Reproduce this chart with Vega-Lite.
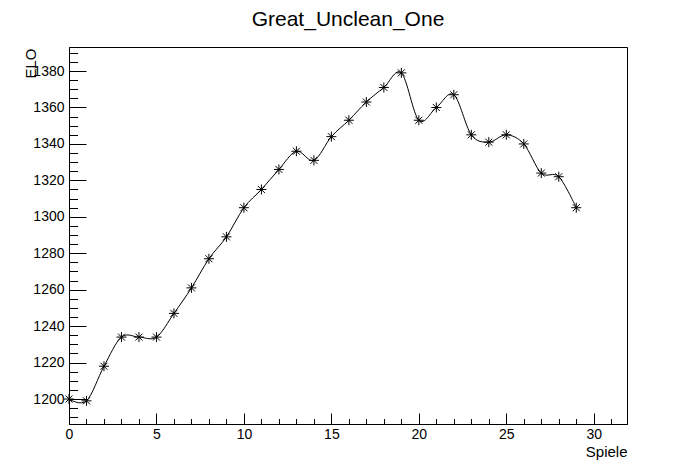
{
  "$schema": "https://vega.github.io/schema/vega-lite/v6.json",
  "width": 558,
  "height": 377,
  "autosize": {"type": "none"},
  "padding": {"left": 69, "top": 47, "right": 69, "bottom": 48},
  "background": "white",
  "title": {"text": "Great_Unclean_One", "font": "Liberation Sans", "fontSize": 21, "fontWeight": "normal", "color": "black", "baseline": "alphabetic", "offset": 19, "dy": 19, "anchor": "middle"},
  "config": {
    "view": {"stroke": "black", "strokeWidth": 1},
    "axis": {"grid": false, "domainColor": "black", "tickColor": "black", "labelColor": "black", "titleColor": "black", "labelFont": "Liberation Sans", "titleFont": "Liberation Sans", "labelFontSize": 14, "titleFontSize": 15, "titleFontWeight": "normal", "labelFlush": false}
  },
  "data": {"values": [
    {"game": 0, "elo": 1200}, {"game": 1, "elo": 1199}, {"game": 2, "elo": 1218}, {"game": 3, "elo": 1234},
    {"game": 4, "elo": 1234}, {"game": 5, "elo": 1234}, {"game": 6, "elo": 1247}, {"game": 7, "elo": 1261},
    {"game": 8, "elo": 1277}, {"game": 9, "elo": 1289}, {"game": 10, "elo": 1305}, {"game": 11, "elo": 1315},
    {"game": 12, "elo": 1326}, {"game": 13, "elo": 1336}, {"game": 14, "elo": 1331}, {"game": 15, "elo": 1344},
    {"game": 16, "elo": 1353}, {"game": 17, "elo": 1363}, {"game": 18, "elo": 1371}, {"game": 19, "elo": 1379},
    {"game": 20, "elo": 1353}, {"game": 21, "elo": 1360}, {"game": 22, "elo": 1367}, {"game": 23, "elo": 1345},
    {"game": 24, "elo": 1341}, {"game": 25, "elo": 1345}, {"game": 26, "elo": 1340}, {"game": 27, "elo": 1324},
    {"game": 28, "elo": 1322}, {"game": 29, "elo": 1305}
  ]},
  "resolve": {"axis": {"x": "independent", "y": "independent"}},
  "layer": [
    {
      "mark": {"type": "line", "interpolate": "cardinal", "color": "black", "strokeWidth": 1},
      "encoding": {
        "x": {"field": "game", "type": "quantitative", "scale": {"domain": [0, 31.9], "nice": false, "zero": false},
          "axis": {"orient": "bottom", "values": [0,1,2,3,4,6,7,8,9,11,12,13,14,16,17,18,19,21,22,23,24,26,27,28,29,31], "tickSize": -5.5, "labels": false, "domain": false, "title": null}},
        "y": {"field": "elo", "type": "quantitative", "scale": {"domain": [1186.3, 1393.2], "nice": false, "zero": false},
          "axis": {"orient": "left", "values": [1190,1195,1205,1210,1215,1225,1230,1235,1245,1250,1255,1265,1270,1275,1285,1290,1295,1305,1310,1315,1325,1330,1335,1345,1350,1355,1365,1370,1375,1385,1390], "tickSize": -8.5, "labels": false, "domain": false, "title": null}}
      }
    },
    {
      "mark": {"type": "point", "shape": "M-1,0L1,0M0,-1L0,1M-0.7,-0.7L0.7,0.7M-0.7,0.7L0.7,-0.7", "filled": false, "stroke": "black", "strokeWidth": 1, "size": 100, "opacity": 1},
      "encoding": {
        "x": {"field": "game", "type": "quantitative",
          "axis": {"orient": "bottom", "values": [0,5,10,15,20,25,30], "format": "d", "tickSize": -11, "labelPadding": 14, "title": "Spiele", "titleAnchor": "end", "titleX": 558, "titleY": 32, "titleAlign": "right", "titleBaseline": "alphabetic"}},
        "y": {"field": "elo", "type": "quantitative",
          "axis": {"orient": "left", "values": [1200,1220,1240,1260,1280,1300,1320,1340,1360,1380], "format": "d", "tickSize": -17, "labelPadding": 22, "title": "ELO", "titleX": -34, "titleY": 1, "titleAngle": -90, "titleAlign": "right", "titleBaseline": "alphabetic"}}
      }
    }
  ]
}
